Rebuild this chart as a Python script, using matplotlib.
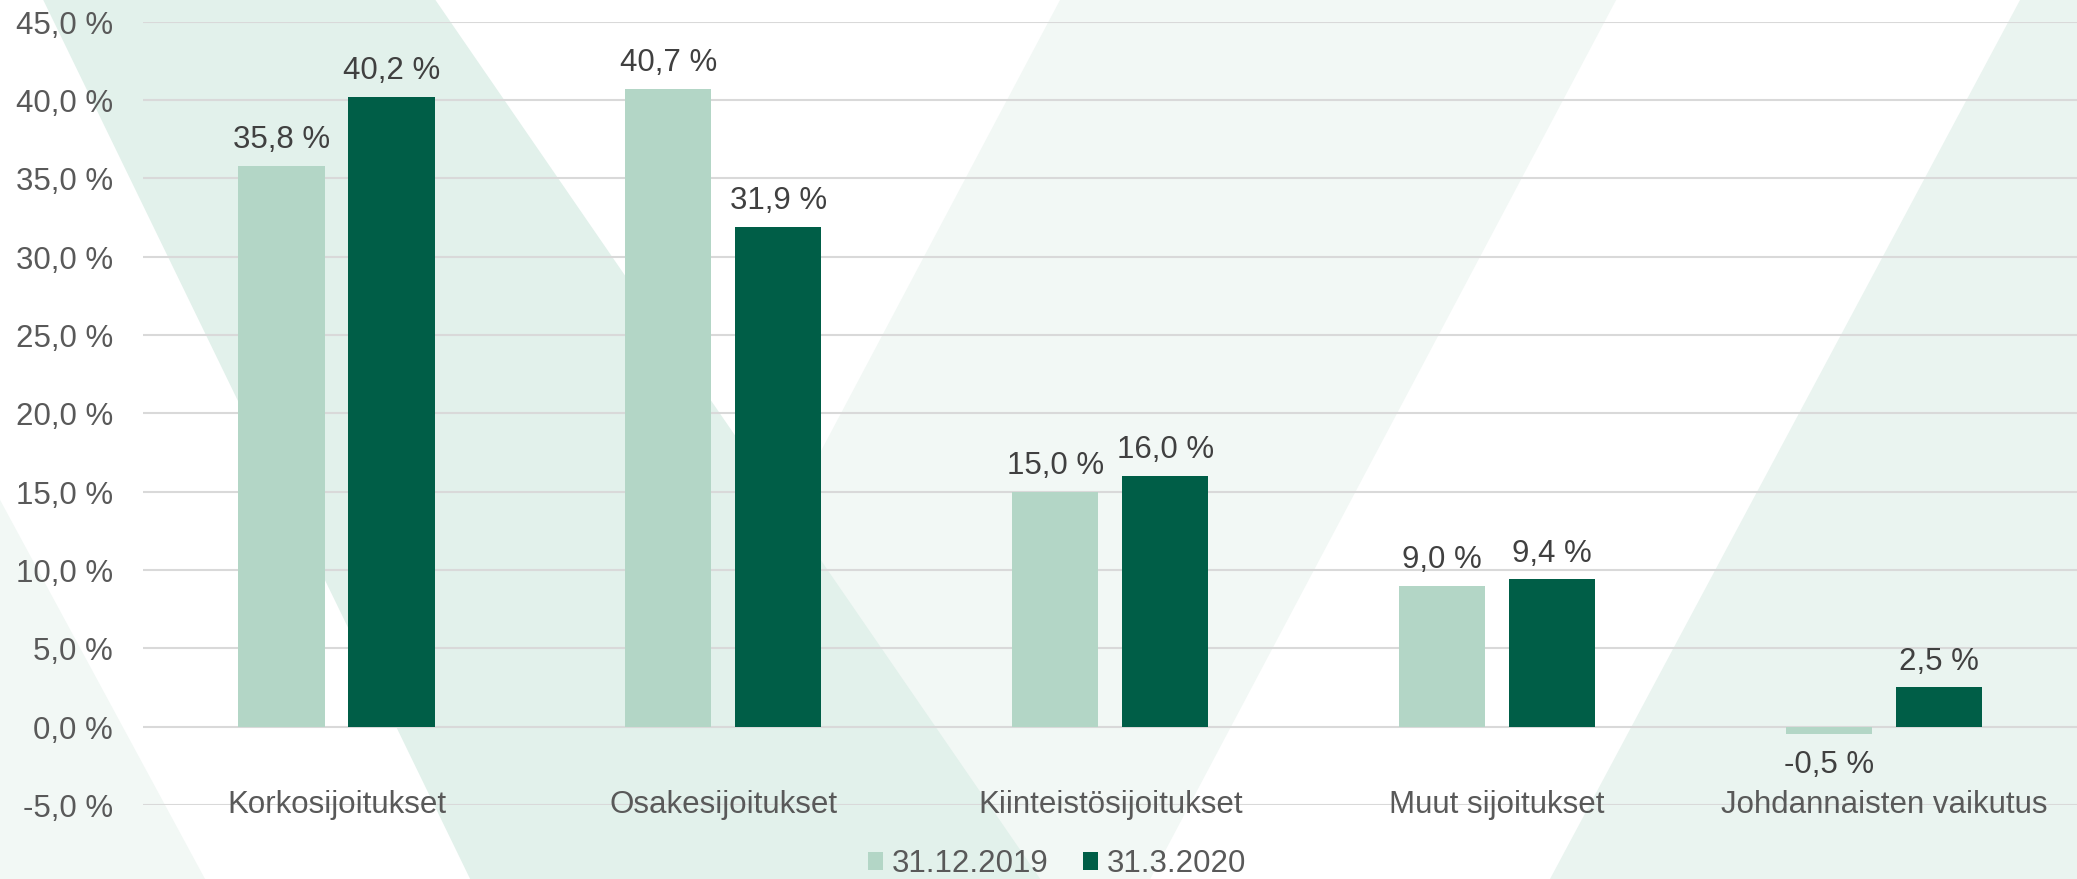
import numpy as np
import matplotlib
matplotlib.use("Agg")
import matplotlib.pyplot as plt
from matplotlib.patches import Polygon
from matplotlib.ticker import FuncFormatter, MultipleLocator

plt.rcParams["font.family"] = ["Liberation Sans", "DejaVu Sans"]

# data
kategoriat = ["Korkosijoitukset", "Osakesijoitukset", "Kiinteistösijoitukset",
              "Muut sijoitukset", "Johdannaisten vaikutus"]
sarja_2019 = [35.8, 40.7, 15.0, 9.0, -0.5]
sarja_2020 = [40.2, 31.9, 16.0, 9.4, 2.5]
sarjat = ["31.12.2019", "31.3.2020"]

vari_vaalea = "#B3D6C6"
vari_tumma = "#005E47"
teksti = "#595959"
fs = 22.5

W, H = 2077, 879
fig = plt.figure(figsize=((W + 0.5) / 100, (H + 0.5) / 100), dpi=100)
fig.patch.set_facecolor("white")

# taustakuvio (vinot raidat), pikseleinä
def px(pts):
    return [(x / W, 1 - y / H) for x, y in pts]

tausta = [
    ([(1060, 0), (1616, 0), (1150, 879), (594, 879)], "#F2F8F5"),
    ([(43, 0), (435, 0), (1040, 879), (470, 879)], "#E2F1EB"),
    ([(0, 500), (205, 879), (0, 879)], "#F2F8F5"),
    ([(2020, 0), (W, 0), (W, H), (1550, 879)], "#EAF4F0"),
]
for pts, c in tausta:
    fig.add_artist(Polygon(px(pts), closed=True, transform=fig.transFigure,
                           facecolor=c, edgecolor="none", zorder=0))

ax = fig.add_axes([143 / W, (879 - 805) / H, 1 - 143 / W, (805 - 22) / H])
ax.set_facecolor("none")
ax.set_zorder(1)

x = np.arange(len(kategoriat))
leveys = 0.2226
siirto = 0.1421
b1 = ax.bar(x - siirto, sarja_2019, leveys, color=vari_vaalea, label=sarjat[0], zorder=3)
b2 = ax.bar(x + siirto, sarja_2020, leveys, color=vari_tumma, label=sarjat[1], zorder=3)

ax.set_xlim(-0.5, len(kategoriat) - 0.5)
ax.set_ylim(-5, 45)
ax.yaxis.set_major_locator(MultipleLocator(5))
ax.yaxis.set_major_formatter(FuncFormatter(lambda v, p: f"{v:.1f} %".replace(".", ",")))
ax.grid(axis="y", color="#D9D9D9", linewidth=1.5, zorder=0)
ax.tick_params(axis="y", length=0, labelsize=fs, labelcolor=teksti, pad=21.5)
ax.set_xticks([])
for s in ax.spines.values():
    s.set_visible(False)

def fmt(v):
    return f"{v:.1f} %".replace(".", ",")

for bars, vals in ((b1, sarja_2019), (b2, sarja_2020)):
    for b, v in zip(bars, vals):
        cx = b.get_x() + b.get_width() / 2
        if v >= 0:
            ax.annotate(fmt(v), (cx, v), xytext=(0, 8), textcoords="offset points",
                        ha="center", va="bottom", fontsize=fs, color="#404040")
        else:
            ax.annotate(fmt(v), (cx, v), xytext=(0, -11), textcoords="offset points",
                        ha="center", va="top", fontsize=fs, color="#404040")

for i, k in enumerate(kategoriat):
    ax.text(i, -5, k, ha="center", va="center", fontsize=fs, color=teksti, zorder=4)

leg = fig.legend(handles=[b1, b2], labels=sarjat, loc="center", bbox_to_anchor=(1057 / W, 1 - 864 / H),
                 ncol=2, frameon=False, fontsize=fs, handlelength=0.48, handleheight=0.48,
                 handletextpad=0.29, columnspacing=1.09, borderpad=0, borderaxespad=0)
for t in leg.get_texts():
    t.set_color(teksti)

fig.savefig("out.png", dpi=100)
